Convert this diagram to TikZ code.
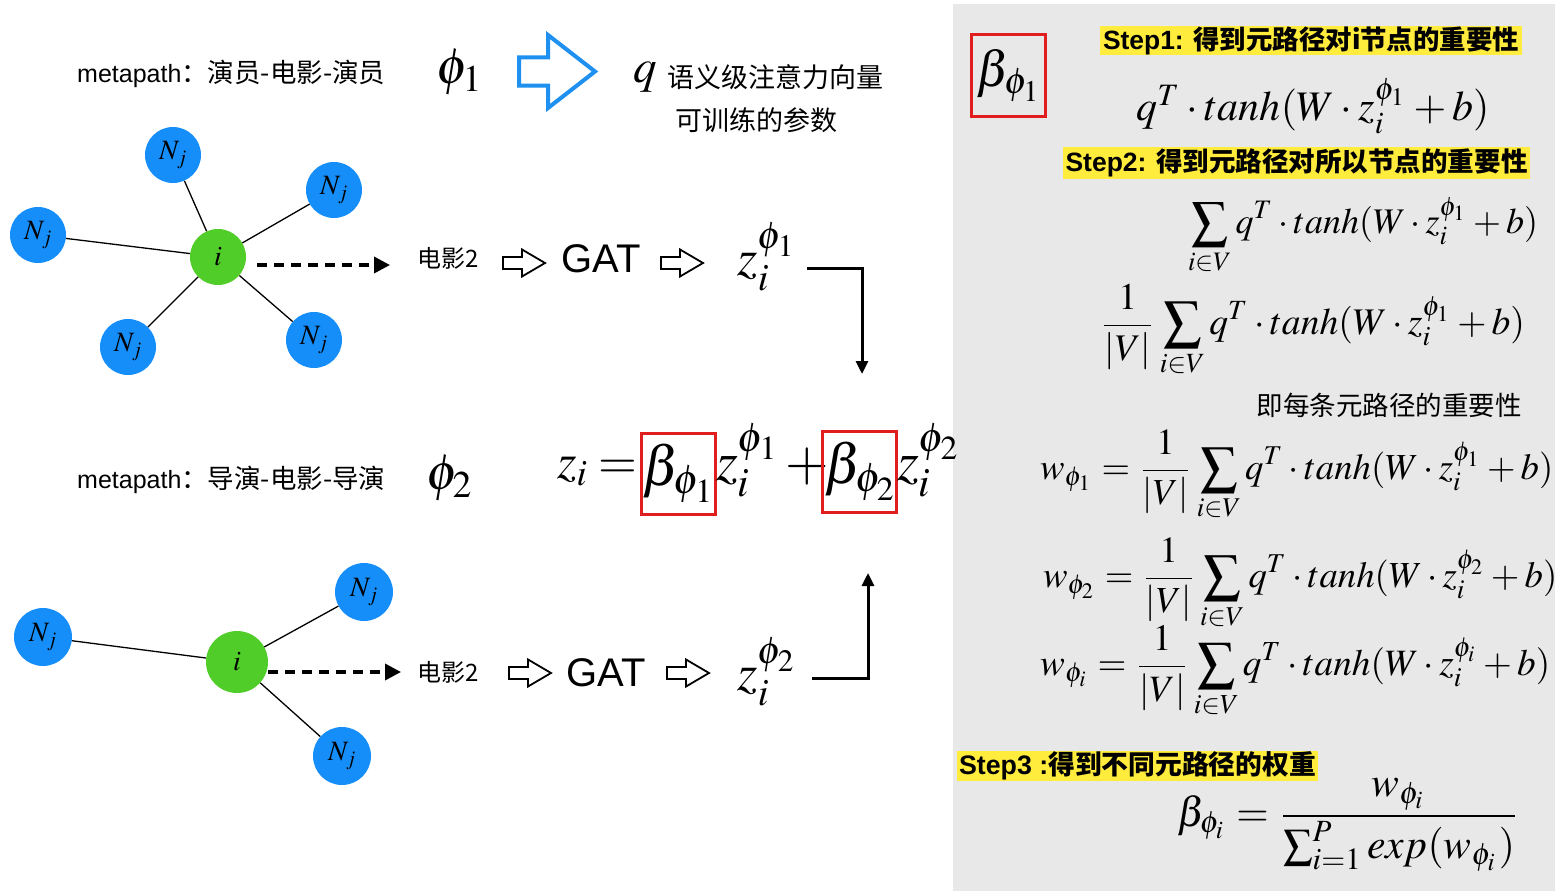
\documentclass[tikz,border=0pt]{standalone}
\usepackage{mathptmx}
\usepackage[no-math]{fontspec}
\setmainfont{Liberation Sans}
\newfontfamily\cjk{Noto Sans CJK SC}
\usepackage{graphicx}
\usetikzlibrary{arrows.meta}
\definecolor{panelgray}{RGB}{232,232,232}
\definecolor{nblue}{RGB}{22,142,250}
\definecolor{ngreen}{RGB}{80,205,40}
\definecolor{ablue}{RGB}{30,144,240}
\definecolor{boxred}{RGB}{225,30,30}
\definecolor{hlyellow}{RGB}{255,236,60}
\newcommand\fsz[1]{\fontsize{#1}{#1}\selectfont}
\newcommand\fitw[2]{\resizebox{#1pt}{!}{#2}}
\tikzset{
 karrow/.pic={\draw[line width=1.8pt, line join=miter, fill=white] (0,-6)--(19,-6)--(19,-13.5)--(42,0)--(19,13.5)--(19,6)--(0,6)--cycle;},
 barrow/.pic={\draw[draw=ablue, line width=4pt, line join=miter] (0,-14)--(29,-14)--(29,-36.5)--(76,0)--(29,36.5)--(29,14)--(0,14)--cycle;}
}
\begin{document}
\begin{tikzpicture}[x=1pt,y=-1pt,
 nb/.style={circle, fill=nblue, minimum size=56pt, inner sep=0pt, font=\fsz{28}},
 ng/.style={circle, fill=ngreen, minimum size=56pt, inner sep=0pt, font=\fsz{28}},
 link/.style={line width=1.3pt, black},
 dashar/.style={line width=3.5pt, dash pattern=on 10pt off 7pt, -{Triangle[length=16pt,width=16pt]}},
 conn/.style={line width=3pt, -{Triangle[length=13pt,width=12pt]}},
 redbox/.style={draw=boxred, line width=3pt, minimum width=74pt, minimum height=81pt, inner sep=0pt},
 hl/.style={fill=hlyellow, inner sep=0pt, font=\fsz{24}\bfseries},
 txt/.style={inner sep=0pt},
]
\useasboundingbox (0,0) rectangle (1555,891);
\fill[white] (0,0) rectangle (1555,891);
\fill[panelgray] (953,4) rectangle (1555,891);

% ---------- row 1 ----------
\node[txt, anchor=base west, font=\fsz{25}] (mp1) at (77,82) {metapath{\cjk\fsz{26.5}：演员-电影-演员}};
\node[txt, font=\fsz{51}] (phi1) at (459,72) {$\phi_1$};
\pic at (519,71.5) {barrow};
\node[txt, font=\fsz{47}, anchor=base west] (q) at (633,82) {$q$};
\node[txt, font=\cjk\fsz{27}, anchor=west] (qdesc) at (667,77.5) {语义级注意力向量};
\node[txt, font=\cjk\fsz{27}] (qdesc2) at (756,120) {可训练的参数};

% graph 1
\node[ng] (g1i) at (218,257) {$i$};
\node[nb] (g1a) at (173,155) {$N_j$};
\node[nb] (g1b) at (334,190) {$N_j$};
\node[nb] (g1c) at (38,235) {$N_j$};
\node[nb] (g1d) at (128,347) {$N_j$};
\node[nb] (g1e) at (314,340) {$N_j$};
\foreach \n in {g1a,g1b,g1c,g1d,g1e} \draw[link] (g1i) -- (\n);
\coordinate (d1s) at (257,265);
\coordinate (d1e) at (390,265);
\draw[dashar] (d1s) -- (d1e);

\node[txt, font=\cjk\fsz{24}] (m1) at (448,258) {电影2};
\pic at (503,263) {karrow};
\node[txt, font=\fsz{40}] (gat1) at (601,259) {GAT};
\pic at (661,263) {karrow};
\node[txt, font=\fsz{52}] (z1) at (766,257) {$z_i^{\phi_1}$};
\coordinate (c1s) at (807,268);
\coordinate (c1e) at (862,374);
\draw[conn] (c1s) -| (c1e);

% ---------- row 2 ----------
\node[txt, anchor=base west, font=\fsz{25}] (mp2) at (77,488) {metapath{\cjk\fsz{26.5}：导演-电影-导演}};
\node[txt, font=\fsz{51}] (phi2) at (449,478) {$\phi_2$};

\node[txt, font=\fsz{56}, anchor=base west] (eqa) at (557,478) {\fitw{80}{$z_i=$}};
\node[redbox, font=\fsz{56}] (b1) at (678,473.5) {$\beta_{\phi_1}$};
\node[txt, font=\fsz{56}, anchor=base west] (eqb) at (716,480) {$z_i^{\phi_1}+{}$};
\node[redbox, font=\fsz{56}] (b2) at (859.5,471.5) {$\beta_{\phi_2}$};
\node[txt, font=\fsz{56}, anchor=base west] (eqc) at (897,480) {$z_i^{\phi_2}$};

% graph 2
\node[ng, minimum size=62pt] (g2i) at (237,662) {$i$};
\node[nb, minimum size=58pt] (g2a) at (364,592) {$N_j$};
\node[nb, minimum size=58pt] (g2b) at (43,637) {$N_j$};
\node[nb, minimum size=58pt] (g2c) at (342,756) {$N_j$};
\foreach \n in {g2a,g2b,g2c} \draw[link] (g2i) -- (\n);
\coordinate (d2s) at (268,672);
\coordinate (d2e) at (401,672);
\draw[dashar] (d2s) -- (d2e);

\node[txt, font=\cjk\fsz{24}] (m2) at (448,672) {电影2};
\pic at (509,673) {karrow};
\node[txt, font=\fsz{40}] (gat2) at (606,673) {GAT};
\pic at (667,673) {karrow};
\node[txt, font=\fsz{52}] (z2) at (766,672) {$z_i^{\phi_2}$};
\coordinate (c2s) at (812,678);
\coordinate (c2e) at (868,573);
\draw[conn] (c2s) -| (c2e);

% ---------- right panel ----------
\node[redbox, font=\fsz{50}] (rb) at (1008,75.5) {$\beta_{\phi_1}$};
\node[hl, minimum width=422pt, minimum height=29pt] (s1) at (1311,40.5) {\fitw{416}{Step1: {\cjk 得到元路径对i节点的重要性}}};
\node[txt] (f1) at (1313,106) {\fitw{353}{$q^T\cdot tanh(W\cdot z_i^{\phi_1}+b)$}};
\node[hl, minimum width=467pt, minimum height=32pt] (s2) at (1296.5,163) {\fitw{462}{Step2: {\cjk 得到元路径对所以节点的重要性}}};
\node[txt] (f2) at (1363,236) {\fitw{350}{$\displaystyle\sum_{i\in V} q^T\cdot tanh(W\cdot z_i^{\phi_1}+b)$}};
\node[txt] (f3) at (1312.5,331) {\fitw{425}{$\displaystyle\frac{1}{|V|}\sum_{i\in V} q^T\cdot tanh(W\cdot z_i^{\phi_1}+b)$}};
\node[txt, font=\cjk\fsz{26.5}] (imp) at (1389,405) {即每条元路径的重要性};
\node[txt, anchor=west] (w1) at (1040,476) {\fitw{513}{$\displaystyle w_{\phi_1}=\frac{1}{|V|}\sum_{i\in V}q^T\cdot tanh(W\cdot z_i^{\phi_1}+b)$}};
\node[txt, anchor=west] (w2) at (1043,584) {\fitw{514}{$\displaystyle w_{\phi_2}=\frac{1}{|V|}\sum_{i\in V}q^T\cdot tanh(W\cdot z_i^{\phi_2}+b)$}};
\node[txt, anchor=west] (wi) at (1040,672) {\fitw{510}{$\displaystyle w_{\phi_i}=\frac{1}{|V|}\sum_{i\in V}q^T\cdot tanh(W\cdot z_i^{\phi_i}+b)$}};
\node[hl, minimum width=361pt, minimum height=30pt] (s3) at (1137.5,766) {\fitw{357}{Step3 :{\cjk 得到不同元路径的权重}}};
\node[txt] (bf) at (1348.5,825) {\fitw{343}{$\displaystyle\beta_{\phi_i}=\frac{w_{\phi_i}}{\sum_{i=1}^{P}exp(w_{\phi_i})}$}};
\end{tikzpicture}
\end{document}
